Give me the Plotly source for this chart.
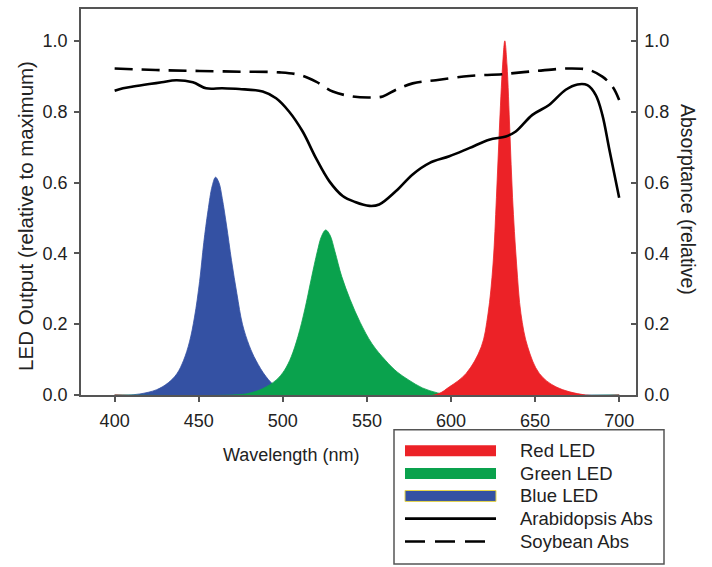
import plotly.graph_objects as go

# ---------------- data ----------------
blue_nm = [400, 408, 415, 425, 432, 437, 441, 444.5, 447.5, 450.5, 453, 455.5, 458, 460, 462, 464, 466.5, 469.5,
           472.7, 476, 480, 484, 490, 496, 503, 512, 520, 700]
blue_val = [0, 0.0, 0.003, 0.015, 0.035, 0.06, 0.098, 0.15, 0.22, 0.32, 0.43, 0.52, 0.59, 0.615, 0.60, 0.555, 0.48, 0.38,
            0.286, 0.20, 0.14, 0.098, 0.052, 0.023, 0.01, 0.002, 0, 0]

green_nm = [400, 470, 480, 488, 496, 501, 505, 509, 513, 517, 520.5, 523, 525.5, 528, 531, 535, 540, 546, 553, 561,
            568, 575, 583, 592, 600, 700]
green_val = [0, 0, 0.005, 0.018, 0.042, 0.07, 0.108, 0.165, 0.24, 0.33, 0.405, 0.448, 0.466, 0.452, 0.405, 0.335, 0.27,
             0.205, 0.145, 0.098, 0.065, 0.042, 0.02, 0.006, 0, 0]

red_nm = [400, 590, 599, 609, 618, 622, 625, 627, 628.7, 630.7, 632, 633.3, 635, 636.6, 639, 641.6, 645.6, 652.5, 662.4, 680, 700]
red_val = [0, 0, 0.023, 0.061, 0.136, 0.229, 0.37, 0.557, 0.744, 0.932, 1.0, 0.932, 0.744, 0.557, 0.37, 0.229, 0.136, 0.061, 0.023, 0, 0]

arab_nm = [400, 405, 411, 420.6, 428, 436.6, 446.5, 454.4, 464, 474.1, 488, 496, 503.8, 511.8, 519.7, 527.6,
           535.6, 543, 551.5, 557.3, 567.3, 577.2, 587.1, 599, 610.8, 622.7, 632.6, 638.5, 648.4, 658.3,
           668.2, 675.2, 681.1, 686.1, 690, 694, 700]
arab_val = [0.859, 0.866, 0.871, 0.878, 0.883, 0.889, 0.883, 0.866, 0.866, 0.864, 0.857, 0.838, 0.80, 0.744, 0.669, 0.604,
            0.562, 0.545, 0.534, 0.538, 0.576, 0.623, 0.655, 0.674, 0.697, 0.721, 0.730, 0.744, 0.791, 0.819,
            0.862, 0.877, 0.875, 0.847, 0.791, 0.697, 0.557]

soy_nm = [400, 411, 430, 450.5, 475, 498, 509.8, 519.7, 529.7, 541.5, 551.5, 559.4, 567.3, 577.2, 591, 610.8,
          630.6, 650.4, 670.2, 682, 690, 696, 700]
soy_val = [0.922, 0.920, 0.917, 0.915, 0.913, 0.911, 0.904, 0.885, 0.857, 0.843, 0.840, 0.843, 0.862, 0.880, 0.889, 0.901,
           0.906, 0.915, 0.922, 0.918, 0.899, 0.871, 0.833]

x_ticks = [400, 450, 500, 550, 600, 650, 700]
y_ticks = [0.0, 0.2, 0.4, 0.6, 0.8, 1.0]
y_ticktext = ["0.0", "0.2", "0.4", "0.6", "0.8", "1.0"]

legend_names = ["Red LED", "Green LED", "Blue LED", "Arabidopsis Abs", "Soybean Abs"]

RED = "#EC2227"
GREEN = "#0AA24D"
BLUE = "#3451A3"
AXIS = "#555555"
TEXT = "#222222"
FONT = "Liberation Sans, Arial, sans-serif"

W, H = 712, 567
L, R, T, B = 81, 76, 7, 172
PW, PH = W - L - R, H - T - B


def px(x):
    return (x - L) / PW


def py(y):
    return (H - B - y) / PH


fig = go.Figure()
for nm, val, col, name in [(blue_nm, blue_val, BLUE, legend_names[2]),
                           (green_nm, green_val, GREEN, legend_names[1]),
                           (red_nm, red_val, RED, legend_names[0])]:
    fig.add_trace(go.Scatter(x=nm, y=val, name=name, mode="lines", fill="tozeroy",
                             fillcolor=col, line=dict(color=col, width=0.8, shape="spline"),
                             yaxis="y"))

fig.add_trace(go.Scatter(x=arab_nm, y=arab_val, name=legend_names[3], mode="lines",
                         line=dict(color="black", width=2.6, shape="spline"), yaxis="y2"))
fig.add_trace(go.Scatter(x=soy_nm, y=soy_val, name=legend_names[4], mode="lines",
                         line=dict(color="black", width=2.6, shape="spline", dash="18px,9px"), yaxis="y2"))

axis_common = dict(showgrid=False, zeroline=False, showline=True, linecolor=AXIS, linewidth=1.5,
                   tickcolor=AXIS, tickwidth=1.5, ticklen=5,
                   tickfont=dict(family=FONT, size=18, color=TEXT))

fig.update_layout(
    width=W, height=H,
    margin=dict(l=L, r=R, t=T, b=B),
    plot_bgcolor="white", paper_bgcolor="white",
    showlegend=False,
    font=dict(family=FONT, size=18, color=TEXT),
    xaxis=dict(range=[380, 710], tickvals=x_ticks, ticks="outside", mirror=True,
               ticklabelstandoff=4, **axis_common),
    yaxis=dict(range=[0, 1.09], tickvals=y_ticks, ticktext=y_ticktext, ticks="outside", mirror=True,
               ticklabelstandoff=3, **axis_common),
    yaxis2=dict(range=[0, 1.09], tickvals=y_ticks, ticktext=y_ticktext, ticks="inside",
                overlaying="y", side="right", ticklabelstandoff=3, **axis_common),
)

annotations = [
    dict(text="LED Output (relative to maximum)", x=px(26), y=py(215), textangle=-90,
         font=dict(size=20.5)),
    dict(text="Absorptance (relative)", x=px(688), y=py(198), textangle=90, font=dict(size=19.5)),
    dict(text="Wavelength (nm)", x=px(291), y=py(455), font=dict(size=18)),
]
for a in annotations:
    a.update(xref="paper", yref="paper", showarrow=False, xanchor="center", yanchor="middle")

# legend (drawn manually to match the reference box)
shapes = [dict(type="rect", xref="paper", yref="paper", x0=px(394), x1=px(664), y0=py(430), y1=py(565),
               line=dict(color=AXIS, width=1.5), fillcolor="white")]
sw_x0, sw_x1 = px(405), px(496)
row_y = [451, 474, 496.5, 519.3, 542.3]
for col, yc, border in [(RED, row_y[0], None), (GREEN, row_y[1], None), (BLUE, row_y[2], "#E6D54A")]:
    shapes.append(dict(type="rect", xref="paper", yref="paper", x0=sw_x0, x1=sw_x1,
                       y0=py(yc - 5.5), y1=py(yc + 5.5), fillcolor=col,
                       line=dict(color=border if border else col, width=1 if border else 0)))
shapes.append(dict(type="line", xref="paper", yref="paper", x0=sw_x0, x1=sw_x1, y0=py(row_y[3]), y1=py(row_y[3]),
                   line=dict(color="black", width=2.6)))
shapes.append(dict(type="line", xref="paper", yref="paper", x0=sw_x0, x1=px(487), y0=py(row_y[4]), y1=py(row_y[4]),
                   line=dict(color="black", width=2.6, dash="20px,10px")))
for name, yc in zip(legend_names, row_y):
    annotations.append(dict(text=name, xref="paper", yref="paper", x=px(518), y=py(yc), xanchor="left",
                            yanchor="middle", showarrow=False, font=dict(size=18.5, color=TEXT)))

fig.update_layout(shapes=shapes, annotations=annotations)
fig.write_html("out.html", config={"displayModeBar": False},
               post_script="document.body.style.margin='0px';")
